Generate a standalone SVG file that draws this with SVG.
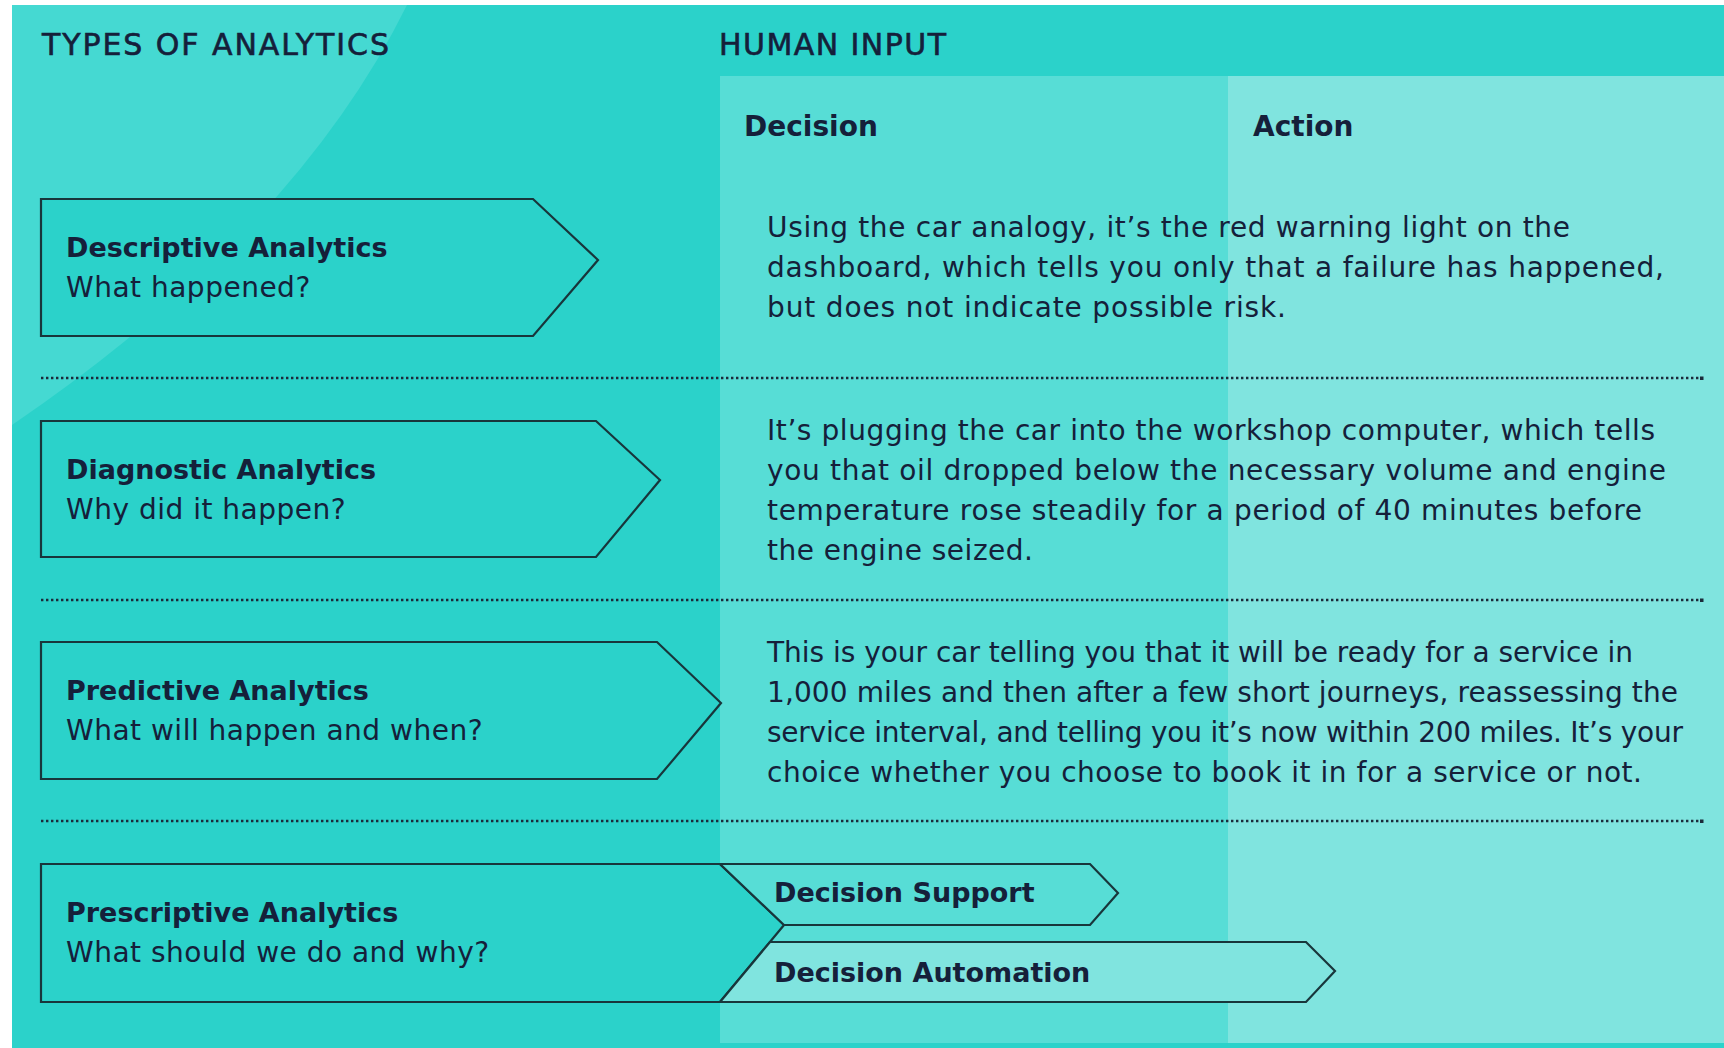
<svg xmlns="http://www.w3.org/2000/svg" width="1724" height="1048" viewBox="0 0 1724 1048">
  <style>
    text { font-family: "DejaVu Sans", "Liberation Sans", sans-serif; fill: #15203a; }
    .hdr { font-size: 30px; stroke: #15203a; stroke-width: 0.6px; }
    .col { font-size: 28px; font-weight: bold; }
    .ttl { font-size: 27px; font-weight: bold; }
    .sub { font-size: 28px; letter-spacing: 0.5px; }
    .body { font-size: 28px; }
    .box { fill: #2bd2ca; stroke: #18363b; stroke-width: 2.2; stroke-linejoin: miter; }
    .dots { stroke: #1b2a3a; stroke-width: 2.6; stroke-dasharray: 2.4 2.6; fill: none; }
  </style>

  <!-- background -->
  <rect x="0" y="0" width="1724" height="1048" fill="#ffffff"/>
  <rect x="12" y="5" width="1712" height="1043" fill="#2bd2ca"/>
  <path d="M407,5 Q295,232 12,425 L12,5 Z" fill="#45d9d2"/>
  <rect x="720" y="76" width="508" height="967" fill="#57ddd6"/>
  <rect x="1228" y="76" width="496" height="967" fill="#80e4df"/>

  <!-- headers -->
  <text class="hdr" x="42" y="55" textLength="347" lengthAdjust="spacing">TYPES OF ANALYTICS</text>
  <text class="hdr" x="719" y="55" textLength="227" lengthAdjust="spacing">HUMAN INPUT</text>
  <text class="col" x="744" y="136">Decision</text>
  <text class="col" x="1253" y="136">Action</text>

  <!-- connectors / separators -->
  <g id="connectors">
    <line class="dots" x1="41" y1="378" x2="1700" y2="378"/>
    <line class="dots" x1="41" y1="600" x2="1700" y2="600"/>
    <line class="dots" x1="41" y1="821" x2="1700" y2="821"/>
    <rect x="1700" y="376.5" width="3.5" height="3.5" fill="#1b2a3a"/>
    <rect x="1700" y="598.5" width="3.5" height="3.5" fill="#1b2a3a"/>
    <rect x="1700" y="819.5" width="3.5" height="3.5" fill="#1b2a3a"/>
  </g>

  <!-- Descriptive -->
  <g id="descriptive">
    <path class="box" d="M41,199 H533 L598,260 L533,336 H41 Z"/>
    <text class="ttl" x="66" y="257">Descriptive Analytics</text>
    <text class="sub" x="66" y="297">What happened?</text>
  </g>
  <g id="descriptive-text">
    <text class="body" x="767" y="237" textLength="803" lengthAdjust="spacing">Using the car analogy, it’s the red warning light on the</text>
    <text class="body" x="767" y="277" textLength="897" lengthAdjust="spacing">dashboard, which tells you only that a failure has happened,</text>
    <text class="body" x="767" y="317" textLength="519" lengthAdjust="spacing">but does not indicate possible risk.</text>
  </g>

  <!-- Diagnostic -->
  <g id="diagnostic">
    <path class="box" d="M41,421 H596 L660,480 L596,557 H41 Z"/>
    <text class="ttl" x="66" y="479">Diagnostic Analytics</text>
    <text class="sub" x="66" y="519">Why did it happen?</text>
  </g>
  <g id="diagnostic-text">
    <text class="body" x="767" y="440" textLength="888" lengthAdjust="spacing">It’s plugging the car into the workshop computer, which tells</text>
    <text class="body" x="767" y="480" textLength="899" lengthAdjust="spacing">you that oil dropped below the necessary volume and engine</text>
    <text class="body" x="767" y="520" textLength="875" lengthAdjust="spacing">temperature rose steadily for a period of 40 minutes before</text>
    <text class="body" x="767" y="560" textLength="266" lengthAdjust="spacing">the engine seized.</text>
  </g>

  <!-- Predictive -->
  <g id="predictive">
    <path class="box" d="M41,642 H657 L721,703 L657,779 H41 Z"/>
    <text class="ttl" x="66" y="700">Predictive Analytics</text>
    <text class="sub" x="66" y="740">What will happen and when?</text>
  </g>
  <g id="predictive-text">
    <text class="body" x="767" y="662" textLength="866" lengthAdjust="spacing">This is your car telling you that it will be ready for a service in</text>
    <text class="body" x="767" y="702" textLength="911" lengthAdjust="spacing">1,000 miles and then after a few short journeys, reassessing the</text>
    <text class="body" x="767" y="742" textLength="916" lengthAdjust="spacing">service interval, and telling you it’s now within 200 miles. It’s your</text>
    <text class="body" x="767" y="782" textLength="875" lengthAdjust="spacing">choice whether you choose to book it in for a service or not.</text>
  </g>

  <!-- Prescriptive -->
  <g id="prescriptive">
    <path class="box" d="M41,864 H720 L784,925 L720,1002 H41 Z"/>
    <text class="ttl" x="66" y="922">Prescriptive Analytics</text>
    <text class="sub" x="66" y="962">What should we do and why?</text>
  </g>

  <g id="decision-support">
    <path class="box" style="fill:#57ddd6" d="M720,864 H1090 L1118,893 L1090,925 H784 Z"/>
    <text class="ttl" x="774" y="902">Decision Support</text>
  </g>

  <g id="decision-automation">
    <path class="box" style="fill:#80e4df" d="M770,942 H1306 L1335,971 L1306,1002 H720 Z"/>
    <text class="ttl" x="774" y="982">Decision Automation</text>
  </g>
</svg>
